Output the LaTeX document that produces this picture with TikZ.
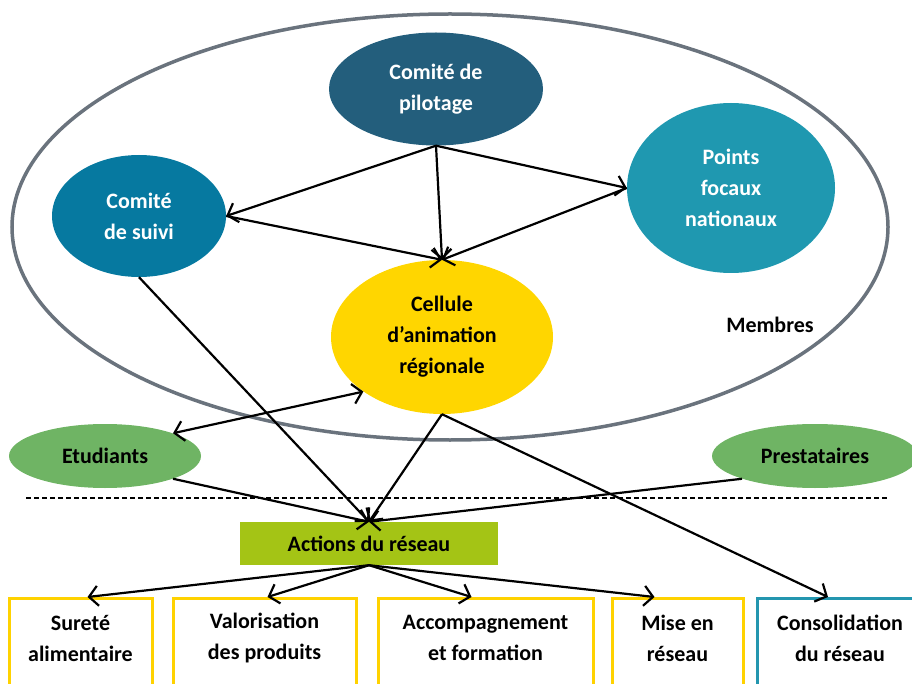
\documentclass[tikz,border=0pt]{standalone}
\usepackage{fontspec}
\setmainfont{Carlito}
\usetikzlibrary{arrows.meta,positioning,shapes.geometric}
\definecolor{pilotBlue}{RGB}{35,94,124}
\definecolor{suiviBlue}{RGB}{6,121,160}
\definecolor{focalTeal}{RGB}{31,152,176}
\definecolor{celluleYellow}{RGB}{255,214,0}
\definecolor{partnerGreen}{RGB}{111,180,100}
\definecolor{actionGreen}{RGB}{164,196,21}
\definecolor{boxYellow}{RGB}{255,210,0}
\definecolor{consolTeal}{RGB}{35,150,175}
\definecolor{ringGray}{RGB}{106,115,125}

\begin{document}
\begin{tikzpicture}[x=1pt, y=-1pt,
    >={Straight Barb[length=9pt,width=20pt,line width=2.2pt]},
    txt/.style={font=\fontsize{22}{31}\selectfont\bfseries, align=center},
    bubble/.style={ellipse, inner sep=0pt, txt},
    flow/.style={->, line width=2.2pt, black},
    actionbox/.style={rectangle, draw=boxYellow, line width=3pt, anchor=north,
      minimum height=120pt}]
    \useasboundingbox (0,0) rectangle (912,684);
    \clip (0,0) rectangle (912,684);
    % --- outer ring of members ---
    \node[ellipse, draw=ringGray, line width=3.5pt, minimum width=876pt,
      minimum height=426pt] (members) at (450,227) {};
    \node[txt] (membreslbl) at (770,325) {Membres};
    % --- member bodies ---
    \node[bubble, fill=pilotBlue, text=white, minimum width=214pt, minimum height=113pt]
      (pilotage) at (436,89) {Comité de\\pilotage};
    \node[bubble, fill=suiviBlue, text=white, minimum width=174pt, minimum height=122pt]
      (suivi) at (139,216) {Comité\\de suivi};
    \node[bubble, fill=focalTeal, text=white, minimum width=208pt, minimum height=170pt]
      (focaux) at (731,188) {Points\\focaux\\nationaux};
    \node[bubble, fill=celluleYellow, minimum width=222pt, minimum height=154pt]
      (cellule) at (442,337) {Cellule\\d’animation\\régionale};
    % --- outside partners ---
    \node[bubble, fill=partnerGreen, minimum width=192pt, minimum height=64pt]
      (etudiants) at (105,456) {Etudiants};
    \node[bubble, fill=partnerGreen, minimum width=206pt, minimum height=64pt]
      (prestataires) at (815,456) {Prestataires};
    % --- separator ---
    \coordinate (sepL) at (26,498);
    \coordinate (sepR) at (887,498);
    \draw[line width=1.5pt, dash pattern=on 5pt off 3pt] (sepL) -- (sepR);
    % --- actions ---
    \node[rectangle, fill=actionGreen, minimum width=258pt, minimum height=43pt, txt]
      (actions) at (369,543.5) {Actions du réseau};
    \node[actionbox, minimum width=143pt] (surete) at (80.5,597) {};
    \node[actionbox, minimum width=183pt] (valor) at (264.5,597) {};
    \node[actionbox, minimum width=215pt] (accomp) at (485.5,597) {};
    \node[actionbox, minimum width=131pt] (miseres) at (677.5,597) {};
    \node[actionbox, draw=consolTeal, minimum width=166pt] (consol) at (840,597) {};
    \node[txt] (suretetxt) at (80.5,638) {Sureté\\alimentaire};
    \node[txt] (valortxt) at (264.5,638) {Valorisation\\des produits};
    \node[txt] (accomptxt) at (485.5,638) {Accompagnement\\et formation};
    \node[txt] (misetxt) at (677.5,638) {Mise en\\réseau};
    \node[txt] (consoltxt) at (840,638) {Consolidation\\du réseau};
    % --- links inside the ring ---
    \draw[flow] (pilotage.south) -- (suivi.east);
    \draw[flow] (pilotage.south) -- (focaux.west);
    \draw[flow] (pilotage.south) -- (cellule.north);
    \draw[flow] (suivi.east) -- (cellule.north);
    \draw[flow] (focaux.west) -- (cellule.north);
    \draw[flow, <->] (etudiants.north east) -- (cellule.south west);
    % --- links down to the actions ---
    \draw[flow] (suivi.south) -- (actions.north);
    \draw[flow] (cellule.south) -- (actions.north);
    \draw[flow] (etudiants.south east) -- (actions.north);
    \draw[flow] (prestataires.south west) -- (actions.north);
    \draw[flow] (cellule.south) -- ([xshift=-12pt]consol.north);
    \draw[flow] (actions.south) -- ([xshift=7pt]surete.north);
    \draw[flow] (actions.south) -- ([xshift=3pt]valor.north);
    \draw[flow] (actions.south) -- ([xshift=-14pt]accomp.north);
    \draw[flow] (actions.south) -- ([xshift=-23pt]miseres.north);
\end{tikzpicture}
\end{document}
